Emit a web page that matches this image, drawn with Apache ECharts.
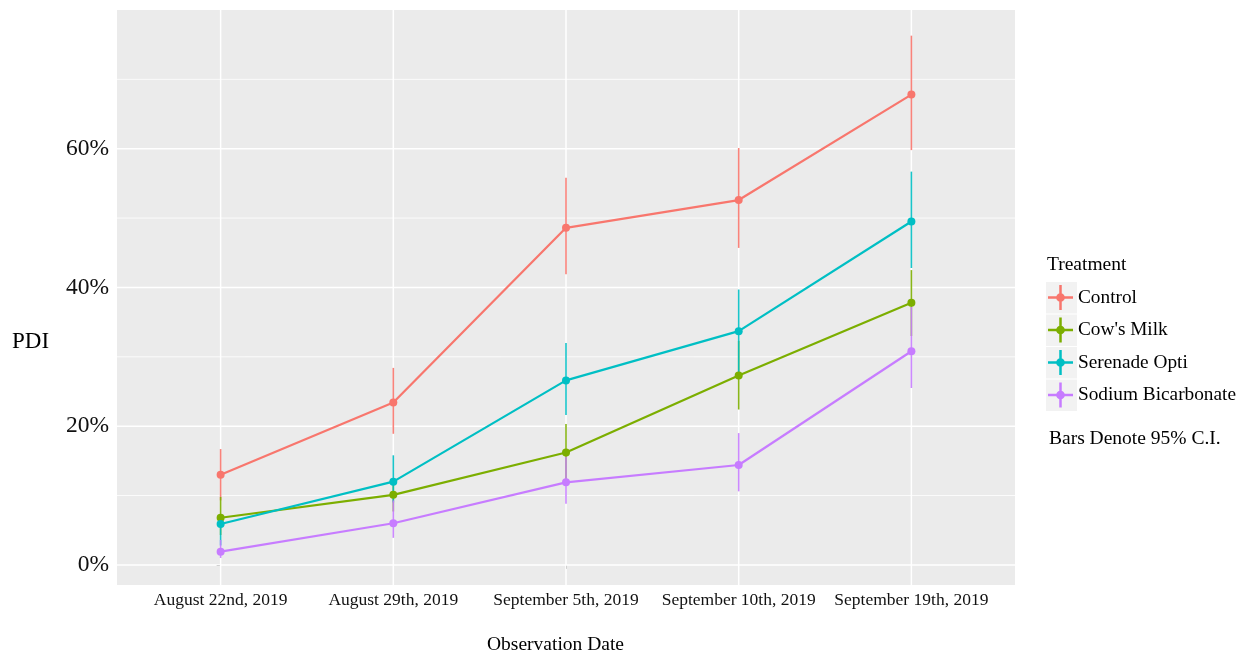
<!DOCTYPE html>
<html>
<head>
<meta charset="utf-8">
<script src="https://cdn.jsdelivr.net/npm/echarts@6/dist/echarts.min.js"></script>
<style>
  html, body { margin: 0; padding: 0; background: #fff; }
  #chart { width: 1258px; height: 656px; }
</style>
</head>
<body>
<div id="chart"></div>
<script>
// observation dates (x categories)
const dates = ['August 22nd, 2019', 'August 29th, 2019', 'September 5th, 2019', 'September 10th, 2019', 'September 19th, 2019'];
const treatments = ['Control', "Cow's Milk", 'Serenade Opti', 'Sodium Bicarbonate'];
const colors = ['#F8766D', '#7CAE00', '#00BFC4', '#C77CFF'];

// PDI (%) and 95% C.I. per treatment
const controlPdi = [13.0, 23.4, 48.6, 52.6, 67.8];
const controlLow = [9.3, 18.9, 41.9, 45.7, 59.8];
const controlHigh = [16.7, 28.4, 55.8, 60.1, 76.3];

const milkPdi = [6.8, 10.1, 16.2, 27.3, 37.8];
const milkLow = [4.3, 7.7, 12.0, 22.4, 33.0];
const milkHigh = [9.8, 12.5, 20.3, 32.3, 42.5];

const serenadePdi = [5.9, 12.0, 26.6, 33.7, 49.5];
const serenadeLow = [2.8, 9.0, 21.6, 27.5, 42.8];
const serenadeHigh = [7.0, 15.8, 32.0, 39.7, 56.7];

const sodiumPdi = [1.9, 6.0, 11.9, 14.4, 30.8];
const sodiumLow = [1.0, 3.9, 8.8, 10.6, 25.5];
const sodiumHigh = [3.6, 9.3, 15.6, 19.0, 37.2];

// axis ticks / grid
const yTicks = [0, 20, 40, 60];
const yMinor = [10, 30, 50, 70];
const xTicks = [0, 1, 2, 3, 4];

const pdiData = [controlPdi, milkPdi, serenadePdi, sodiumPdi];
const lowData = [controlLow, milkLow, serenadeLow, sodiumLow];
const highData = [controlHigh, milkHigh, serenadeHigh, sodiumHigh];

const serif = 'Liberation Serif';
// legend key: cross (error bar + line) with a dot
const crossIcon = 'path://M10.8,0H13.2V10.8H24V13.2H13.2V24H10.8V13.2H0V10.8H10.8Z M7.8,12A4.2,4.2 0 1 1 16.2,12A4.2,4.2 0 1 1 7.8,12Z';

const chart = echarts.init(document.getElementById('chart'));

// white grid lines drawn over the grey panel
function gridSeries(values, dir, width) {
	return {
		type: 'custom',
		silent: true,
		z: 1,
		data: values.map((v) => (dir === 'h' ? [0, v] : [v, 0])),
		renderItem: function (params, api) {
			const cs = params.coordSys;
			if (dir === 'h') {
				const y = api.coord([0, api.value(1)])[1];
				return { type: 'line', shape: { x1: cs.x, y1: y, x2: cs.x + cs.width, y2: y }, style: { stroke: '#fff', lineWidth: width } };
			}
			const x = api.coord([api.value(0), 0])[0];
			return { type: 'line', shape: { x1: x, y1: cs.y, x2: x, y2: cs.y + cs.height }, style: { stroke: '#fff', lineWidth: width } };
		},
	};
}

const series = [
	gridSeries(yMinor, 'h', 0.8),
	gridSeries(yTicks, 'h', 1.5),
	gridSeries(xTicks, 'v', 1.5),
];

treatments.forEach((name, i) => {
	// error bars (also carries the legend entry)
	series.push({
		type: 'custom',
		name: name,
		silent: true,
		z: 3,
		itemStyle: { color: colors[i] },
		data: xTicks.map((x, j) => [x, lowData[i][j], highData[i][j]]),
		renderItem: function (params, api) {
			const p1 = api.coord([api.value(0), api.value(1)]);
			const p2 = api.coord([api.value(0), api.value(2)]);
			return { type: 'line', shape: { x1: p1[0], y1: p1[1], x2: p2[0], y2: p2[1] }, style: { stroke: colors[i], lineWidth: 1.6, opacity: 0.9 } };
		},
	});
	series.push({
		type: 'line',
		name: name + ' mean',
		z: 4,
		data: xTicks.map((x, j) => [x, pdiData[i][j]]),
		symbol: 'circle',
		symbolSize: 8,
		showSymbol: true,
		itemStyle: { color: colors[i] },
		lineStyle: { color: colors[i], width: 2.2 },
	});
});

const keyBoxes = treatments.map((t, i) => ({
	type: 'rect',
	left: 1046,
	top: 282 + i * 32.5,
	shape: { width: 31, height: 31.5 },
	style: { fill: '#F2F2F2' },
	z: 0,
}));

chart.setOption({
	animation: false,
	backgroundColor: '#fff',
	grid: { left: 117, top: 10, width: 898, height: 575, show: true, backgroundColor: '#EBEBEB', borderWidth: 0 },
	xAxis: {
		type: 'value',
		min: -0.6,
		max: 4.6,
		splitLine: { show: false },
		axisLine: { show: false },
		axisTick: { show: true, customValues: xTicks, length: 4, lineStyle: { color: '#444', width: 1 } },
		axisLabel: {
			customValues: xTicks,
			margin: 6,
			fontFamily: serif,
			fontSize: 17.5,
			color: '#111',
			formatter: function (v) { return dates[Math.round(v)]; },
		},
	},
	yAxis: {
		type: 'value',
		min: -2.9,
		max: 80,
		splitLine: { show: false },
		axisLine: { show: false },
		axisTick: { show: true, customValues: yTicks, length: 4, lineStyle: { color: '#444', width: 1 } },
		axisLabel: {
			customValues: yTicks,
			margin: 8,
			fontFamily: serif,
			fontSize: 23.5,
			color: '#111',
			formatter: '{value}%',
		},
	},
	legend: {
		data: treatments.map((t) => ({ name: t, icon: crossIcon })),
		orient: 'vertical',
		left: 1048,
		top: 285,
		padding: 0,
		itemGap: 7.5,
		itemWidth: 25,
		itemHeight: 25,
		selectedMode: false,
		itemStyle: { borderWidth: 0 },
		textStyle: { fontFamily: serif, fontSize: 19.3, color: '#000' },
	},
	graphic: keyBoxes.concat([
		{ type: 'text', left: 1047, top: 255, style: { text: 'Treatment', font: '19.5px "Liberation Serif"', fill: '#000' } },
		{ type: 'text', left: 1049, top: 429, style: { text: 'Bars Denote 95% C.I.', font: '19.5px "Liberation Serif"', fill: '#000' } },
		{ type: 'text', left: 12, top: 330, style: { text: 'PDI', font: '23px "Liberation Serif"', fill: '#000' } },
		{ type: 'text', left: 487, top: 635, style: { text: 'Observation Date', font: '19.5px "Liberation Serif"', fill: '#000' } },
	]),
	series: series,
});
</script>
</body>
</html>
